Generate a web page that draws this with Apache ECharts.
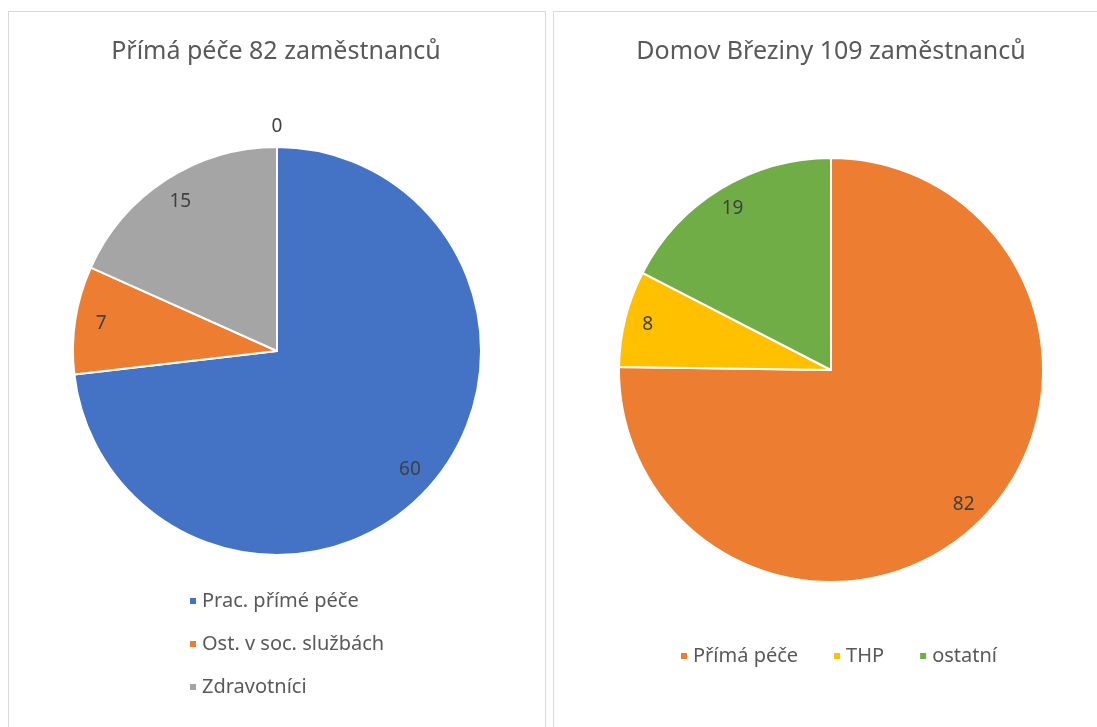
<!DOCTYPE html>
<html>
<head>
<meta charset="utf-8">
<script src="https://cdn.jsdelivr.net/npm/echarts@6/dist/echarts.min.js"></script>
<style>
  html, body { margin: 0; padding: 0; background: #fff; }
  .panel { position: absolute; border: 1px solid #d9d9d9; background: #fff; }
  #chart { position: absolute; left: 0; top: 0; width: 1097px; height: 727px; }
</style>
</head>
<body>
<div class="panel" style="left:8px;top:11px;width:536px;height:730px"></div>
<div class="panel" style="left:553px;top:11px;width:560px;height:730px"></div>
<div id="chart"></div>
<script>
// levý graf
const leftTitle = 'Přímá péče 82 zaměstnanců'
const leftCategories = ['Prac. přímé péče', 'Ost. v soc. službách', 'Zdravotníci', '']
const leftValues = [60, 7, 15, 0]
// pravý graf
const rightTitle = 'Domov Březiny 109 zaměstnanců'
const rightCategories = ['Přímá péče', 'THP', 'ostatní']
const rightValues = [82, 8, 19]

const leftColors = ['#4472C4', '#ED7D31', '#A5A5A5', '#FFC000']
const rightColors = ['#ED7D31', '#FFC000', '#70AD47']
const font = 'Noto Sans'

function pieData(names, values, colors) {
  return names.map((n, i) => ({ name: n, value: values[i], itemStyle: { color: colors[i] } }))
}

function labelData(names, values) {
  return names.map((n, i) => {
    const item = { name: n, value: values[i] }
    if (values[i] === 0) {
      // nulová hodnota - popisek nad koláčem
      item.label = { position: 'outside', distanceToLabelLine: 0 }
      item.labelLine = { show: false, length: 20, length2: 0 }
    }
    return item
  })
}

function mainPie(center, r, data) {
  return {
    type: 'pie',
    center: center,
    radius: r,
    startAngle: 90,
    clockwise: true,
    avoidLabelOverlap: false,
    emphasis: { disabled: true },
    label: { show: false },
    labelLine: { show: false },
    itemStyle: { borderColor: '#fff', borderWidth: 2 },
    data: data
  }
}

function labelPie(center, r0, r, values, data) {
  return {
    type: 'pie',
    silent: true,
    center: center,
    radius: [r0, r],
    startAngle: 90,
    clockwise: true,
    avoidLabelOverlap: false,
    emphasis: { disabled: true },
    itemStyle: { color: 'rgba(0,0,0,0)', borderWidth: 0 },
    label: {
      show: true,
      position: 'inside',
      formatter: '{c}',
      color: '#404040',
      fontFamily: font,
      fontSize: 19
    },
    labelLine: { show: false },
    labelLayout: function(params) {
      return values[params.dataIndex] === 0 ? { align: 'center' } : {}
    },
    data: data
  }
}

const titleStyle = { color: '#595959', fontFamily: font, fontSize: 25, fontWeight: 'normal' }
const legendText = { color: '#595959', fontFamily: font, fontSize: 20, lineHeight: 22 }

const chart = echarts.init(document.getElementById('chart'))
chart.setOption({
  animation: false,
  backgroundColor: 'transparent',
  title: [
    { text: leftTitle, left: 271, top: 34, textAlign: 'center', textStyle: titleStyle },
    { text: rightTitle, left: 826, top: 34, textAlign: 'center', textStyle: titleStyle }
  ],
  legend: [
    {
      data: leftCategories.slice(0, 3),
      orient: 'vertical',
      left: 183,
      top: 585,
      itemWidth: 8,
      itemHeight: 8,
      itemGap: 21,
      icon: 'rect',
      selectedMode: false,
      textStyle: legendText
    },
    {
      data: rightCategories,
      orient: 'horizontal',
      left: 674,
      top: 640,
      itemWidth: 8,
      itemHeight: 8,
      itemGap: 34,
      icon: 'rect',
      selectedMode: false,
      textStyle: legendText
    }
  ],
  series: [
    mainPie([277, 351], 204, pieData(leftCategories, leftValues, leftColors)),
    labelPie([277, 351], 146, 204, leftValues, labelData(leftCategories, leftValues)),
    mainPie([831, 370], 212, pieData(rightCategories, rightValues, rightColors)),
    labelPie([831, 370], 160, 212, rightValues, labelData(rightCategories, rightValues))
  ]
})
</script>
</body>
</html>
